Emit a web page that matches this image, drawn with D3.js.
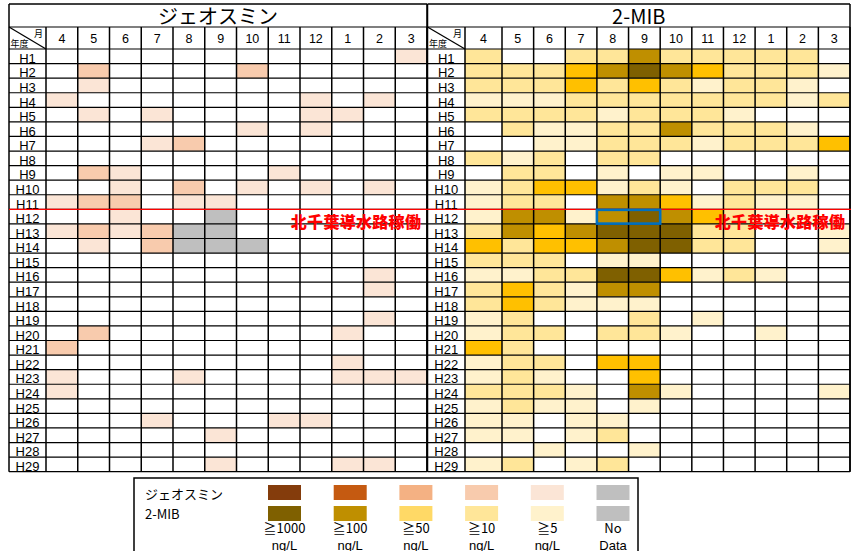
<!DOCTYPE html>
<html>
<head>
<meta charset="utf-8">
<script src="https://cdn.jsdelivr.net/npm/d3@7"></script>
<style>
  html, body { margin: 0; padding: 0; background: #fff; }
  svg { display: block; }
  text { font-family: "Liberation Sans", Arial, "Noto Sans CJK JP", sans-serif; }
  .jp { font-family: "Noto Sans CJK JP", sans-serif; }
</style>
</head>
<body>
<svg id="chart" width="851" height="551"></svg>
<script>
// Fiscal-year rows (Heisei) and month columns (April .. March)
const years = ["H1","H2","H3","H4","H5","H6","H7","H8","H9","H10","H11","H12","H13","H14","H15",
  "H16","H17","H18","H19","H20","H21","H22","H23","H24","H25","H26","H27","H28","H29"];
const months = ["4","5","6","7","8","9","10","11","12","1","2","3"];

// Concentration class per cell: 0 = <5, 1 = ≧5, 2 = ≧10, 3 = ≧50, 4 = ≧100, 5 = ≧1000 ng/L, -1 = no data
const geosmin = [
  [0,0,0,0,0,0,0,0,0,0,0,1],
  [0,2,0,0,0,0,2,0,0,0,0,0],
  [0,1,0,0,0,0,0,0,0,0,0,0],
  [1,0,0,0,0,0,0,0,1,0,1,0],
  [0,1,0,1,0,0,0,0,1,1,0,0],
  [0,0,0,0,0,0,1,0,1,0,0,0],
  [0,0,0,1,2,0,0,0,0,0,0,0],
  [0,0,0,0,0,0,0,0,0,0,0,0],
  [0,2,1,0,0,0,0,1,0,0,0,0],
  [0,0,1,0,2,0,1,0,1,0,1,0],
  [1,2,2,0,1,1,0,0,0,0,0,0],
  [0,0,1,0,0,-1,0,0,0,0,0,0],
  [1,2,1,2,-1,-1,0,0,0,0,0,0],
  [0,1,0,2,-1,-1,-1,0,0,0,0,0],
  [0,0,0,0,0,0,0,0,0,0,0,0],
  [0,0,0,0,0,0,0,0,0,0,1,0],
  [0,0,0,0,0,0,0,0,0,0,1,0],
  [0,0,0,0,0,0,0,0,0,0,0,0],
  [0,0,0,0,0,0,0,0,0,0,1,0],
  [0,2,0,0,0,0,0,0,0,1,0,0],
  [2,0,0,0,0,0,0,0,0,0,0,0],
  [0,0,0,0,0,0,0,0,0,1,0,0],
  [1,0,0,0,1,0,0,0,0,1,1,1],
  [1,0,0,0,0,0,0,0,0,0,0,0],
  [0,0,0,0,0,0,0,0,0,0,0,0],
  [0,0,0,1,0,0,0,1,1,0,0,0],
  [0,0,0,0,0,1,0,0,0,0,0,0],
  [0,0,0,0,0,0,0,0,0,0,0,0],
  [0,0,0,0,0,1,0,0,0,1,1,0]
];

const mib = [
  [2,0,0,2,2,4,2,2,2,2,2,0],
  [2,2,2,3,4,5,4,3,2,2,2,1],
  [2,2,2,3,2,3,2,1,2,2,1,0],
  [1,1,1,2,2,2,2,2,2,2,1,2],
  [2,2,2,2,1,2,2,2,1,0,0,0],
  [0,2,1,1,2,2,4,2,2,2,1,0],
  [0,0,1,1,2,2,2,1,2,2,2,3],
  [2,1,2,0,2,2,0,0,0,0,0,0],
  [0,2,2,0,1,0,1,1,0,0,1,0],
  [1,2,3,3,1,2,1,0,2,2,2,0],
  [1,2,2,0,4,4,3,1,2,1,1,0],
  [1,4,4,1,4,5,4,3,2,1,1,0],
  [2,4,3,4,5,5,5,2,2,0,0,1],
  [3,2,3,3,4,5,5,2,2,0,0,1],
  [2,2,2,0,1,1,0,0,0,0,0,0],
  [1,1,2,2,5,5,3,1,2,1,0,0],
  [2,3,2,1,4,4,0,0,0,0,0,0],
  [2,3,2,1,1,1,0,0,0,0,0,0],
  [1,2,0,0,0,2,0,1,0,0,0,0],
  [1,2,2,0,2,2,1,0,0,1,0,0],
  [3,2,0,0,0,0,0,0,0,0,0,0],
  [1,2,2,0,3,3,0,0,0,0,0,0],
  [1,2,1,0,0,3,0,0,0,0,0,0],
  [2,2,2,1,0,4,1,0,0,0,0,1],
  [1,2,1,1,0,1,0,0,0,0,0,0],
  [1,1,0,1,1,0,0,0,0,0,0,0],
  [1,1,0,1,2,0,0,0,0,0,0,0],
  [0,0,1,0,0,1,0,0,0,0,0,0],
  [1,2,0,1,2,0,0,0,0,0,0,0]
];

// Legend classes (highest first)
const classCodes = [5, 4, 3, 2, 1, -1];
const classLabels = [["≧1000","ng/L"],["≧100","ng/L"],["≧50","ng/L"],["≧10","ng/L"],["≧5","ng/L"],["No","Data"]];

// Cell fills per class
const geoCellColors = ["#ffffff","#fbe5d6","#f8cbad","#f4b183","#c55a11","#843c0c"];
const mibCellColors = ["#ffffff","#fff2cc","#ffe699","#ffc000","#bf8f00","#7f6000"];
const noDataColor = "#bfbfbf";
// Legend swatch fills, ordered as classCodes
const geoLegendColors = ["#843c0c","#c55a11","#f4b183","#f8cbad","#fbe5d6","#bfbfbf"];
const mibLegendColors = ["#7f6000","#bf8f00","#ffd966","#ffe699","#fff2cc","#bfbfbf"];

const svg = d3.select("#chart");

const gridTop = 4, titleBottom = 27, headBottom = 49, gridBottom = 471.7;
const y = d3.scaleLinear().domain([0, years.length]).range([headBottom, gridBottom]);

function panel(cfg) {
  const g = svg.append("g");
  const x = d3.scaleLinear().domain(cfg.xDomain).range(cfg.xRange);
  const left = cfg.left, right = cfg.xRange[cfg.xRange.length - 1];
  const colorOf = c => c < 0 ? noDataColor : cfg.cellColors[c];

  // cells
  const cells = [];
  cfg.data.forEach((row, r) => row.forEach((c, m) => cells.push({r, m, c})));
  g.append("g").selectAll("rect").data(cells.filter(d => d.c !== 0)).join("rect")
    .attr("x", d => x(d.m)).attr("y", d => y(d.r))
    .attr("width", d => x(d.m + 1) - x(d.m)).attr("height", d => y(d.r + 1) - y(d.r))
    .attr("fill", d => colorOf(d.c));

  // title
  g.append("text").attr("class", "jp")
    .attr("x", (left + right) / 2).attr("y", 24)
    .attr("text-anchor", "middle").attr("font-size", 20).attr("fill", "#000")
    .text(cfg.title);

  // month headers
  g.append("g").selectAll("text").data(months).join("text")
    .attr("x", (d, i) => (x(i) + x(i + 1)) / 2).attr("y", 42.5)
    .attr("text-anchor", "middle").attr("font-size", 12.5).attr("fill", "#000")
    .text(d => d);

  // year labels
  g.append("g").selectAll("text").data(years).join("text")
    .attr("x", (left + x(0)) / 2).attr("y", (d, i) => y(i + 1) - 0.8)
    .attr("text-anchor", "middle").attr("font-size", 13).attr("fill", "#000")
    .text(d => d);

  // corner cell
  g.append("line").attr("x1", left).attr("y1", titleBottom).attr("x2", x(0)).attr("y2", headBottom)
    .attr("stroke", "#000").attr("stroke-width", 1.3);
  g.append("text").attr("class", "jp").attr("x", x(0) - 3).attr("y", 36.5)
    .attr("text-anchor", "end").attr("font-size", 9).text("月");
  g.append("text").attr("class", "jp").attr("x", left + 1.5).attr("y", 47)
    .attr("font-size", 9).text("年度");

  // grid lines
  const grid = g.append("g").attr("stroke", "#000").attr("fill", "none");
  grid.selectAll(".h").data(d3.range(years.length + 1)).join("line")
    .attr("x1", left).attr("x2", right)
    .attr("y1", d => y(d)).attr("y2", d => y(d)).attr("stroke-width", 1.2);
  grid.append("line").attr("x1", left).attr("x2", right).attr("y1", titleBottom).attr("y2", titleBottom).attr("stroke-width", 1.2);
  grid.append("line").attr("x1", left).attr("x2", right).attr("y1", gridTop).attr("y2", gridTop).attr("stroke-width", 1.4);
  grid.selectAll(".v").data(d3.range(months.length + 1)).join("line")
    .attr("x1", d => x(d)).attr("x2", d => x(d))
    .attr("y1", titleBottom).attr("y2", gridBottom).attr("stroke-width", 1.5);
  grid.append("line").attr("x1", left).attr("x2", left).attr("y1", gridTop).attr("y2", gridBottom).attr("stroke-width", 1.5);
  grid.append("line").attr("x1", right).attr("x2", right).attr("y1", gridTop).attr("y2", gridBottom).attr("stroke-width", 1.5);

  return {g, x, left, right};
}

const L = panel({ title: "ジェオスミン", data: geosmin, cellColors: geoCellColors,
  left: 9, xDomain: [0, 12], xRange: [46, 427] });
const R = panel({ title: "2-MIB", data: mib, cellColors: mibCellColors,
  left: 427.5, xDomain: [0, 1, 12], xRange: [465, 502, 850] });

// start of the Kita-Chiba conduit operation (from H12)
const startRow = years.indexOf("H12");
svg.append("line").attr("x1", 9).attr("x2", 851)
  .attr("y1", y(startRow)).attr("y2", y(startRow))
  .attr("stroke", "#ff0000").attr("stroke-width", 1.2);

[356, 780].forEach(cx => {
  svg.append("text").attr("class", "jp")
    .attr("x", cx).attr("y", y(startRow) + 19)
    .attr("text-anchor", "middle").attr("font-size", 16).attr("font-weight", 900)
    .attr("fill", "#ff0000").attr("letter-spacing", 0.3)
    .text("北千葉導水路稼働");
});

// highlight on H12 Aug–Sep (2-MIB)
const m8 = months.indexOf("8"), m9 = months.indexOf("9");
svg.append("rect")
  .attr("x", R.x(m8)).attr("y", y(startRow) + 0.5)
  .attr("width", R.x(m9 + 1) - R.x(m8)).attr("height", y(startRow + 1) - y(startRow) - 0.8)
  .attr("fill", "none").attr("stroke", "#0070c0").attr("stroke-width", 2.6);

// legend
const lg = svg.append("g");
lg.append("rect").attr("x", 134).attr("y", 478).attr("width", 504).attr("height", 90)
  .attr("fill", "#fff").attr("stroke", "#000").attr("stroke-width", 1.5);
lg.append("text").attr("class", "jp").attr("x", 145).attr("y", 499).attr("font-size", 13).text("ジェオスミン");
lg.append("text").attr("class", "jp").attr("x", 145).attr("y", 519).attr("font-size", 13).text("2-MIB");

const lx = d3.scalePoint().domain(classCodes).range([284.5, 613]);
lg.selectAll(".sw1").data(classCodes).join("rect")
  .attr("x", d => lx(d) - 16.5).attr("y", 485).attr("width", 33).attr("height", 15)
  .attr("fill", (d, i) => geoLegendColors[i]);
lg.selectAll(".sw2").data(classCodes).join("rect")
  .attr("x", d => lx(d) - 16.5).attr("y", 506).attr("width", 33).attr("height", 15)
  .attr("fill", (d, i) => mibLegendColors[i]);
lg.selectAll(".lb1").data(classCodes).join("text").attr("class", "jp")
  .attr("x", d => lx(d)).attr("y", 533).attr("text-anchor", "middle").attr("font-size", 13)
  .text((d, i) => classLabels[i][0]);
lg.selectAll(".lb2").data(classCodes).join("text")
  .attr("x", d => lx(d)).attr("y", 549.5).attr("text-anchor", "middle").attr("font-size", 13)
  .text((d, i) => classLabels[i][1]);
</script>
</body>
</html>
